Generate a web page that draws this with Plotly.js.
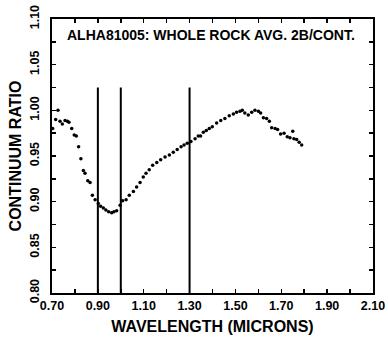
<!DOCTYPE html>
<html>
<head>
<meta charset="utf-8">
<script src="https://cdn.plot.ly/plotly-3.0.1.min.js"></script>
<style>html,body{margin:0;padding:0;background:#fff;}#chart{width:388px;height:337px;}</style>
</head>
<body>
<div id="chart"></div>
<script>
// Spectrum: wavelength (microns) and continuum ratio
const wavelength = [0.703,0.716,0.726,0.735,0.745,0.757,0.767,0.774,0.786,0.797,0.806,0.816,0.826,0.837,0.844,0.856,0.866,0.876,0.888,0.902,0.912,0.924,0.935,0.947,0.960,0.970,0.982,0.997,1.008,1.023,1.037,1.055,1.069,1.084,1.098,1.110,1.124,1.139,1.157,1.174,1.193,1.212,1.229,1.246,1.263,1.276,1.290,1.306,1.324,1.338,1.348,1.360,1.373,1.386,1.399,1.418,1.436,1.454,1.473,1.491,1.505,1.520,1.530,1.541,1.556,1.571,1.585,1.600,1.610,1.622,1.636,1.648,1.658,1.673,1.684,1.697,1.712,1.726,1.738,1.750,1.755,1.767,1.778,1.789];
const ratio = [0.980,0.990,1.000,0.988,0.985,0.989,0.988,0.987,0.980,0.973,0.972,0.960,0.947,0.934,0.931,0.923,0.921,0.907,0.902,0.898,0.895,0.893,0.891,0.889,0.888,0.889,0.890,0.896,0.901,0.902,0.907,0.911,0.916,0.921,0.927,0.931,0.935,0.940,0.943,0.946,0.949,0.951,0.954,0.957,0.960,0.962,0.964,0.966,0.969,0.972,0.972,0.976,0.978,0.980,0.982,0.986,0.989,0.991,0.994,0.996,0.998,0.999,1.000,0.997,0.995,0.998,1.000,0.999,0.997,0.992,0.991,0.988,0.981,0.980,0.979,0.974,0.975,0.971,0.970,0.977,0.969,0.968,0.965,0.962];
// Vertical marker lines (band positions)
const bandLines = [0.90, 1.00, 1.30];
const bandLineBottom = 0.80;
const bandLineTop = 1.025;
const xTickVals = [0.70,0.90,1.10,1.30,1.50,1.70,1.90,2.10];
const xMinorVals = [0.80,1.00,1.20,1.40,1.60,1.80,2.00];
const yTickVals = [0.80,0.85,0.90,0.95,1.00,1.05,1.10];
const yMinorVals = [0.825,0.875,0.925,0.975,1.025,1.075];
const titleText = "ALHA81005: WHOLE ROCK AVG. 2B/CONT.";

const fontFam = "Liberation Sans, Arial, sans-serif";
const traces = [];
bandLines.forEach(b => {
  traces.push({x:[b,b], y:[bandLineBottom, bandLineTop], mode:'lines',
    line:{color:'#000', width:2}, hoverinfo:'skip', showlegend:false});
});
traces.push({x:wavelength, y:ratio, mode:'markers', type:'scatter',
  marker:{color:'#000', size:3.5}, showlegend:false});

const layout = {
  width:388, height:337,
  margin:{l:52, r:15, t:19, b:44},
  paper_bgcolor:'#fff', plot_bgcolor:'#fff',
  font:{family:fontFam, color:'#000', weight:'bold'},
  showlegend:false,
  xaxis:{range:[0.70,2.10], tickvals:xTickVals, ticktext:xTickVals.map(v=>v.toFixed(2)),
    ticks:'inside', ticklen:4, tickwidth:1.5, tickcolor:'#000',
    minor:{tickvals:xMinorVals, ticks:'inside', ticklen:4, tickwidth:1.5, tickcolor:'#000'},
    showline:true, linecolor:'#000', linewidth:2, mirror:'ticks', showgrid:false, zeroline:false,
    tickfont:{size:12.5, family:fontFam, weight:'bold'},
    title:{text:'WAVELENGTH (MICRONS)', font:{size:16, family:fontFam, weight:'bold'}, standoff:9}},
  yaxis:{range:[0.80,1.10], tickvals:yTickVals, ticktext:yTickVals.map(v=>v.toFixed(2)),
    tickangle:-90, ticklabelstandoff:6,
    ticks:'inside', ticklen:4, tickwidth:1.5, tickcolor:'#000',
    minor:{tickvals:yMinorVals, ticks:'inside', ticklen:4, tickwidth:1.5, tickcolor:'#000'},
    showline:true, linecolor:'#000', linewidth:2, mirror:'ticks', showgrid:false, zeroline:false,
    tickfont:{size:12.5, family:fontFam, weight:'bold'},
    title:{text:'CONTINUUM RATIO', font:{size:16, family:fontFam, weight:'bold'}, standoff:2}},
  annotations:[{text:titleText, xref:'paper', yref:'paper', x:0.04, y:0.94, xanchor:'left', yanchor:'middle',
    showarrow:false, font:{size:14, family:fontFam, weight:'bold', color:'#000'}}]
};
Plotly.newPlot('chart', traces, layout, {displayModeBar:false, staticPlot:true});
</script>
</body>
</html>
